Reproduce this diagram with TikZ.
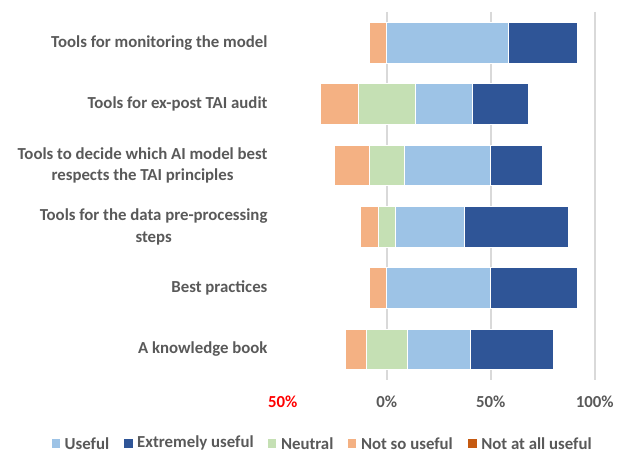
\documentclass[tikz,border=0pt]{standalone}
\usepackage{fontspec}
\setmainfont{Carlito}
\usetikzlibrary{positioning}

\definecolor{useful}{HTML}{9DC3E6}
\definecolor{extreme}{HTML}{2F5597}
\definecolor{neutral}{HTML}{C5E0B4}
\definecolor{notso}{HTML}{F4B183}
\definecolor{notatall}{HTML}{C55A11}
\definecolor{txtgrey}{HTML}{595959}
\definecolor{gridgrey}{HTML}{D9D9D9}

\begin{document}
\begin{tikzpicture}
[x=0.75pt, y=-0.75pt,
every node/.style={font=\bfseries\fontsize{12.6}{16.3}\selectfont, text=txtgrey, inner sep=0pt},
bar/.style={draw=white, line width=0.5pt},
gridline/.style={draw=gridgrey, line width=1.1pt},
legsq/.style={minimum size=6.4pt, inner sep=0pt}]
\useasboundingbox (0,0) rectangle (623,453);

% category labels
\foreach \txt [count=\i] in {Tools for monitoring the model,
  Tools for ex-post TAI audit,
  Tools to decide which AI model best\\respects the TAI principles,
  Tools for the data pre-processing\\steps,
  Best practices,
  A knowledge book}
  \node[anchor=east, align=center] (lab\i) at (267.7,{42.7+61.3*(\i-1)}) {\txt};

\begin{scope}[xshift=290.1pt, x=1.56pt]
% grid
\foreach \p in {0,50,100}
  \draw[gridline] (\p,12) -- (\p,380);
% bars: not so useful | neutral | useful | extremely useful
\foreach \a/\b/\c/\d/\e [count=\i] in {-8.33/0/0/58.33/91.67,
  -31.82/-13.64/13.64/40.91/68.18,
  -25/-8.33/8.33/50/75,
  -12.5/-4.17/4.17/37.5/87.5,
  -8.33/0/0/50/91.67,
  -20/-10/10/40/80}
{
  \pgfmathsetmacro\yc{42.7+61.3*(\i-1)}
  \draw[bar, fill=notso] (\a,{\yc-20.3}) rectangle (\b,{\yc+20.3});
  \draw[bar, fill=neutral] (\b,{\yc-20.3}) rectangle (\c,{\yc+20.3});
  \draw[bar, fill=useful] (\c,{\yc-20.3}) rectangle (\d,{\yc+20.3});
  \draw[bar, fill=extreme] (\d,{\yc-20.3}) rectangle (\e,{\yc+20.3});
}
% axis
\node[text=red] (tickm50) at (-50,401.7) {50\%};
\node (tick0) at (0,401.7) {0\%};
\node (tick50) at (50,401.7) {50\%};
\node (tick100) at (100,401.7) {100\%};
\end{scope}

% legend
\node[legsq, fill=useful] (squseful) at (55.9,443.3) {};
\node[right=3pt of squseful] (txtuseful) {Useful};
\node[legsq, fill=extreme] (sqextreme) at (128.4,443.3) {};
\node[right=3pt of sqextreme] (txtextreme) {Extremely useful};
\node[legsq, fill=neutral] (sqneutral) at (272.2,443.3) {};
\node[right=3pt of sqneutral] (txtneutral) {Neutral};
\node[legsq, fill=notso] (sqnotso) at (352.2,443.3) {};
\node[right=3pt of sqnotso] (txtnotso) {Not so useful};
\node[legsq, fill=notatall] (sqnotatall) at (472.5,443.3) {};
\node[right=3pt of sqnotatall] (txtnotatall) {Not at all useful};
\end{tikzpicture}
\end{document}
